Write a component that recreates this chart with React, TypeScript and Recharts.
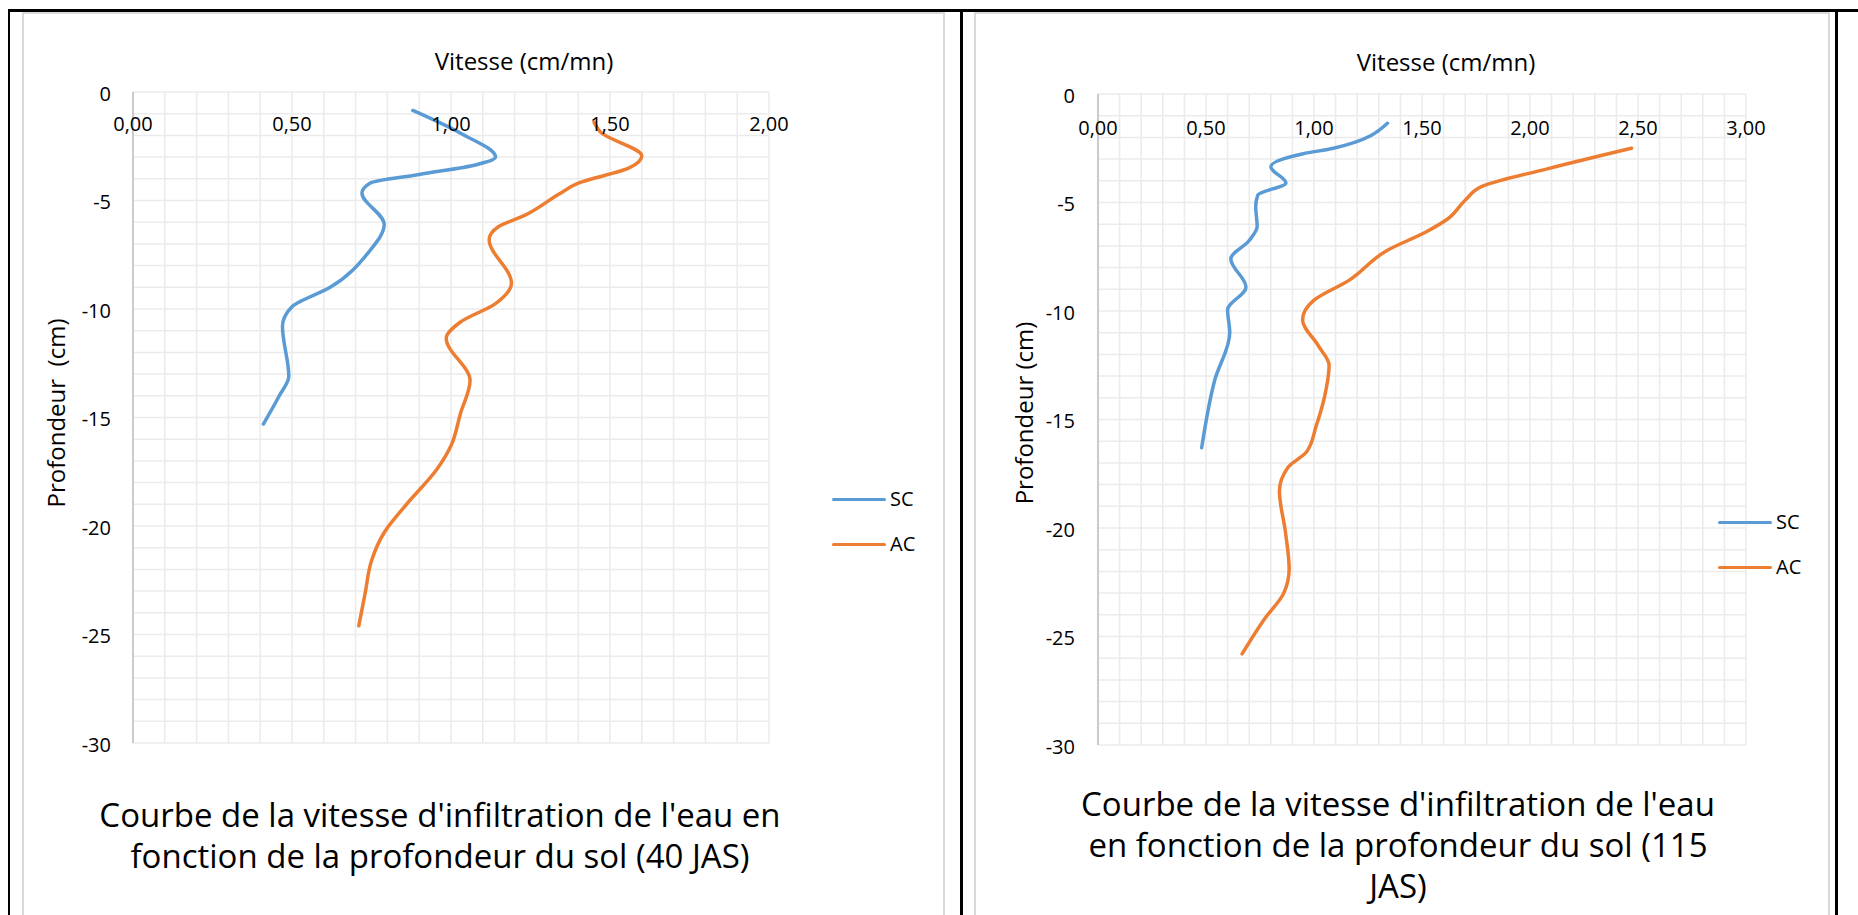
import React from 'react';
import { ScatterChart, Scatter, XAxis, YAxis, CartesianGrid } from 'recharts';

const FONT = '"Open Sans", sans-serif';
const SC_COLOR = '#5B9BD5';
const AC_COLOR = '#ED7D31';
const GRID = '#ebebeb';

// Infiltration speed (cm/mn) against soil depth (cm), 40 JAS
const sc40Depth = [-0.85, -1.9, -3.0, -3.35, -3.8, -4.2, -4.65, -6.1, -7.4, -9.0, -9.9, -10.8, -13.1, -14.0, -15.3];
const sc40Speed = [0.88, 1.03, 1.14, 1.08, 0.9, 0.745, 0.72, 0.79, 0.74, 0.62, 0.5, 0.47, 0.49, 0.46, 0.41];
const ac40Depth = [-1.4, -1.85, -2.95, -3.5, -4.2, -4.7, -5.7, -6.2, -6.8, -8.8, -9.75, -10.6, -11.35, -13.3, -14.8, -16.3, -17.4, -19.0, -20.3, -21.6, -23.1, -24.6];
const ac40Speed = [1.45, 1.47, 1.6, 1.56, 1.4, 1.34, 1.23, 1.15, 1.12, 1.19, 1.14, 1.03, 0.985, 1.06, 1.03, 1.0, 0.955, 0.86, 0.79, 0.75, 0.73, 0.71];

// Infiltration speed (cm/mn) against soil depth (cm), 115 JAS
const sc115Depth = [-1.35, -2.5, -2.75, -3.35, -4.1, -4.65, -5.2, -6.1, -6.75, -7.6, -8.9, -9.95, -11.0, -13.2, -16.3];
const sc115Speed = [1.34, 1.09, 0.95, 0.8, 0.87, 0.74, 0.73, 0.737, 0.7, 0.615, 0.685, 0.6, 0.61, 0.54, 0.48];
const ac115Depth = [-2.5, -3.45, -4.25, -4.9, -5.75, -6.35, -7.2, -8.6, -9.5, -10.4, -11.6, -12.5, -13.9, -15.3, -16.5, -17.2, -18.3, -20.2, -21.9, -23.0, -24.2, -25.8];
const ac115Speed = [2.47, 2.08, 1.78, 1.7, 1.62, 1.52, 1.34, 1.16, 1.0, 0.947, 1.02, 1.07, 1.05, 1.01, 0.965, 0.88, 0.84, 0.868, 0.885, 0.86, 0.77, 0.667];

const seriesNames = ['SC', 'AC'];
const xTitle = 'Vitesse (cm/mn)';
const title40 = ["Courbe de la vitesse d'infiltration de l'eau en", 'fonction de la profondeur du sol (40 JAS)'];
const title115 = ["Courbe de la vitesse d'infiltration de l'eau", 'en fonction de la profondeur du sol (115', 'JAS)'];

// tick values: every 0.1 on the speed axis (labelled every 0.5), every 1 on depth (labelled every 5)
const speedTicks40 = Array.from({ length: 21 }, (_, i) => i / 10);
const speedTicks115 = Array.from({ length: 31 }, (_, i) => i / 10);
const depthTicks = Array.from({ length: 31 }, (_, i) => -i);

const zip = (depth: number[], speed: number[]) => depth.map((d, i) => ({ d, v: speed[i] }));

const XTick = (props: any) => {
  const { x, payload, labelY } = props;
  const v = payload.value as number;
  if (Math.round(v * 10) % 5 !== 0) return <g />;
  return (
    <text x={x} y={labelY} textAnchor="middle" dominantBaseline="central" fontFamily={FONT} fontSize={20} fill="#000">
      {v.toFixed(2).replace('.', ',')}
    </text>
  );
};

const YTick = (props: any) => {
  const { y, payload, labelX } = props;
  const v = payload.value as number;
  if (v % 5 !== 0) return <g />;
  return (
    <text x={labelX} y={y + 1} textAnchor="end" dominantBaseline="central" fontFamily={FONT} fontSize={20} fill="#000">
      {String(v)}
    </text>
  );
};

type PanelProps = {
  left: number;
  width: number;
  margin: { top: number; right: number; bottom: number; left: number };
  xMax: number;
  xTicks: number[];
  xLabelY: number;
  yLabelX: number;
  sc: { d: number; v: number }[];
  ac: { d: number; v: number }[];
};

const lineStyle = (color: string) => ({
  stroke: color,
  strokeWidth: 3.5,
  fill: 'none',
  strokeLinecap: 'round',
  strokeLinejoin: 'round',
});

const Panel = ({ left, width, margin, xMax, xTicks, xLabelY, yLabelX, sc, ac }: PanelProps) => (
  <div style={{ position: 'absolute', left, top: 0 }}>
    <ScatterChart width={width} height={915} margin={margin}>
      <CartesianGrid stroke={GRID} strokeWidth={1.5} />
      <XAxis
        type="number"
        dataKey="v"
        orientation="top"
        height={30}
        domain={[0, xMax]}
        ticks={xTicks}
        interval={0}
        axisLine={false}
        tickLine={false}
        tick={(p: any) => <XTick {...p} labelY={xLabelY} />}
      />
      <YAxis
        type="number"
        dataKey="d"
        width={60}
        domain={[-30, 0]}
        ticks={depthTicks}
        interval={0}
        axisLine={{ stroke: '#bfbfbf', strokeWidth: 1.5 }}
        tickLine={false}
        tick={(p: any) => <YTick {...p} labelX={yLabelX} />}
      />
      <Scatter
        name={seriesNames[0]}
        data={sc}
        fill={SC_COLOR}
        line={lineStyle(SC_COLOR)}
        lineJointType="monotoneY"
        shape={() => <g />}
        isAnimationActive={false}
      />
      <Scatter
        name={seriesNames[1]}
        data={ac}
        fill={AC_COLOR}
        line={lineStyle(AC_COLOR)}
        lineJointType="monotoneY"
        shape={() => <g />}
        isAnimationActive={false}
      />
    </ScatterChart>
  </div>
);

const abs = (style: React.CSSProperties): React.CSSProperties => ({ position: 'absolute', ...style });

const LegendRow = ({ x, y, color, label }: { x: number; y: number; color: string; label: string }) => (
  <>
    <div style={abs({ left: x, top: y - 1.5, width: 54, height: 3, background: color, borderRadius: 2 })} />
    <div style={abs({ left: x + 58, top: y - 15, height: 30, lineHeight: '30px', fontFamily: FONT, fontSize: 20, color: '#000' })}>
      {label}
    </div>
  </>
);

const AxisTitleX = ({ cx, cy }: { cx: number; cy: number }) => (
  <div style={abs({ left: cx - 150, top: cy - 17, width: 300, textAlign: 'center', lineHeight: '34px', fontFamily: FONT, fontSize: 24, color: '#000' })}>
    {xTitle}
  </div>
);

const AxisTitleY = ({ cx, cy, text }: { cx: number; cy: number; text: string }) => (
  <div
    style={abs({
      left: cx - 150,
      top: cy - 17,
      width: 300,
      textAlign: 'center',
      lineHeight: '34px',
      fontFamily: FONT,
      fontSize: 24,
      color: '#000',
      whiteSpace: 'pre',
      transform: 'rotate(-90deg)',
    })}
  >
    {text}
  </div>
);

const ChartTitle = ({ cx, top, lines }: { cx: number; top: number; lines: string[] }) => (
  <div style={abs({ left: cx - 420, top, width: 840, textAlign: 'center', lineHeight: '41px', fontFamily: FONT, fontSize: 33, color: '#000' })}>
    {lines.map((l) => (
      <div key={l}>{l}</div>
    ))}
  </div>
);

export default function App() {
  return (
    <div style={abs({ left: 0, top: 0, width: 1858, height: 915, background: '#fff', overflow: 'hidden' })}>
      {/* chart frames */}
      <div style={abs({ left: 22, top: 12, width: 919, height: 920, border: '2px solid #d9d9d9' })} />
      <div style={abs({ left: 974, top: 12, width: 852, height: 920, border: '2px solid #d9d9d9' })} />
      {/* table borders */}
      <div style={abs({ left: 8, top: 9, width: 1850, height: 3, background: '#000' })} />
      <div style={abs({ left: 8, top: 9, width: 2, height: 906, background: '#000' })} />
      <div style={abs({ left: 960, top: 9, width: 3, height: 906, background: '#000' })} />
      <div style={abs({ left: 1835, top: 9, width: 3, height: 906, background: '#000' })} />

      <Panel
        left={0}
        width={960}
        margin={{ top: 62, right: 191, bottom: 172, left: 73 }}
        xMax={2}
        xTicks={speedTicks40}
        xLabelY={123}
        yLabelX={111}
        sc={zip(sc40Depth, sc40Speed)}
        ac={zip(ac40Depth, ac40Speed)}
      />
      <Panel
        left={960}
        width={898}
        margin={{ top: 64, right: 112, bottom: 170, left: 78 }}
        xMax={3}
        xTicks={speedTicks115}
        xLabelY={127}
        yLabelX={115}
        sc={zip(sc115Depth, sc115Speed)}
        ac={zip(ac115Depth, ac115Speed)}
      />

      <AxisTitleX cx={524} cy={61} />
      <AxisTitleX cx={1446} cy={62} />
      <AxisTitleY cx={56} cy={413} text="Profondeur  (cm)" />
      <AxisTitleY cx={1024} cy={413} text="Profondeur (cm)" />

      <LegendRow x={832} y={499} color={SC_COLOR} label={seriesNames[0]} />
      <LegendRow x={832} y={544} color={AC_COLOR} label={seriesNames[1]} />
      <LegendRow x={1718} y={522} color={SC_COLOR} label={seriesNames[0]} />
      <LegendRow x={1718} y={567} color={AC_COLOR} label={seriesNames[1]} />

      <ChartTitle cx={440} top={794} lines={title40} />
      <ChartTitle cx={1398} top={783} lines={title115} />
    </div>
  );
}
